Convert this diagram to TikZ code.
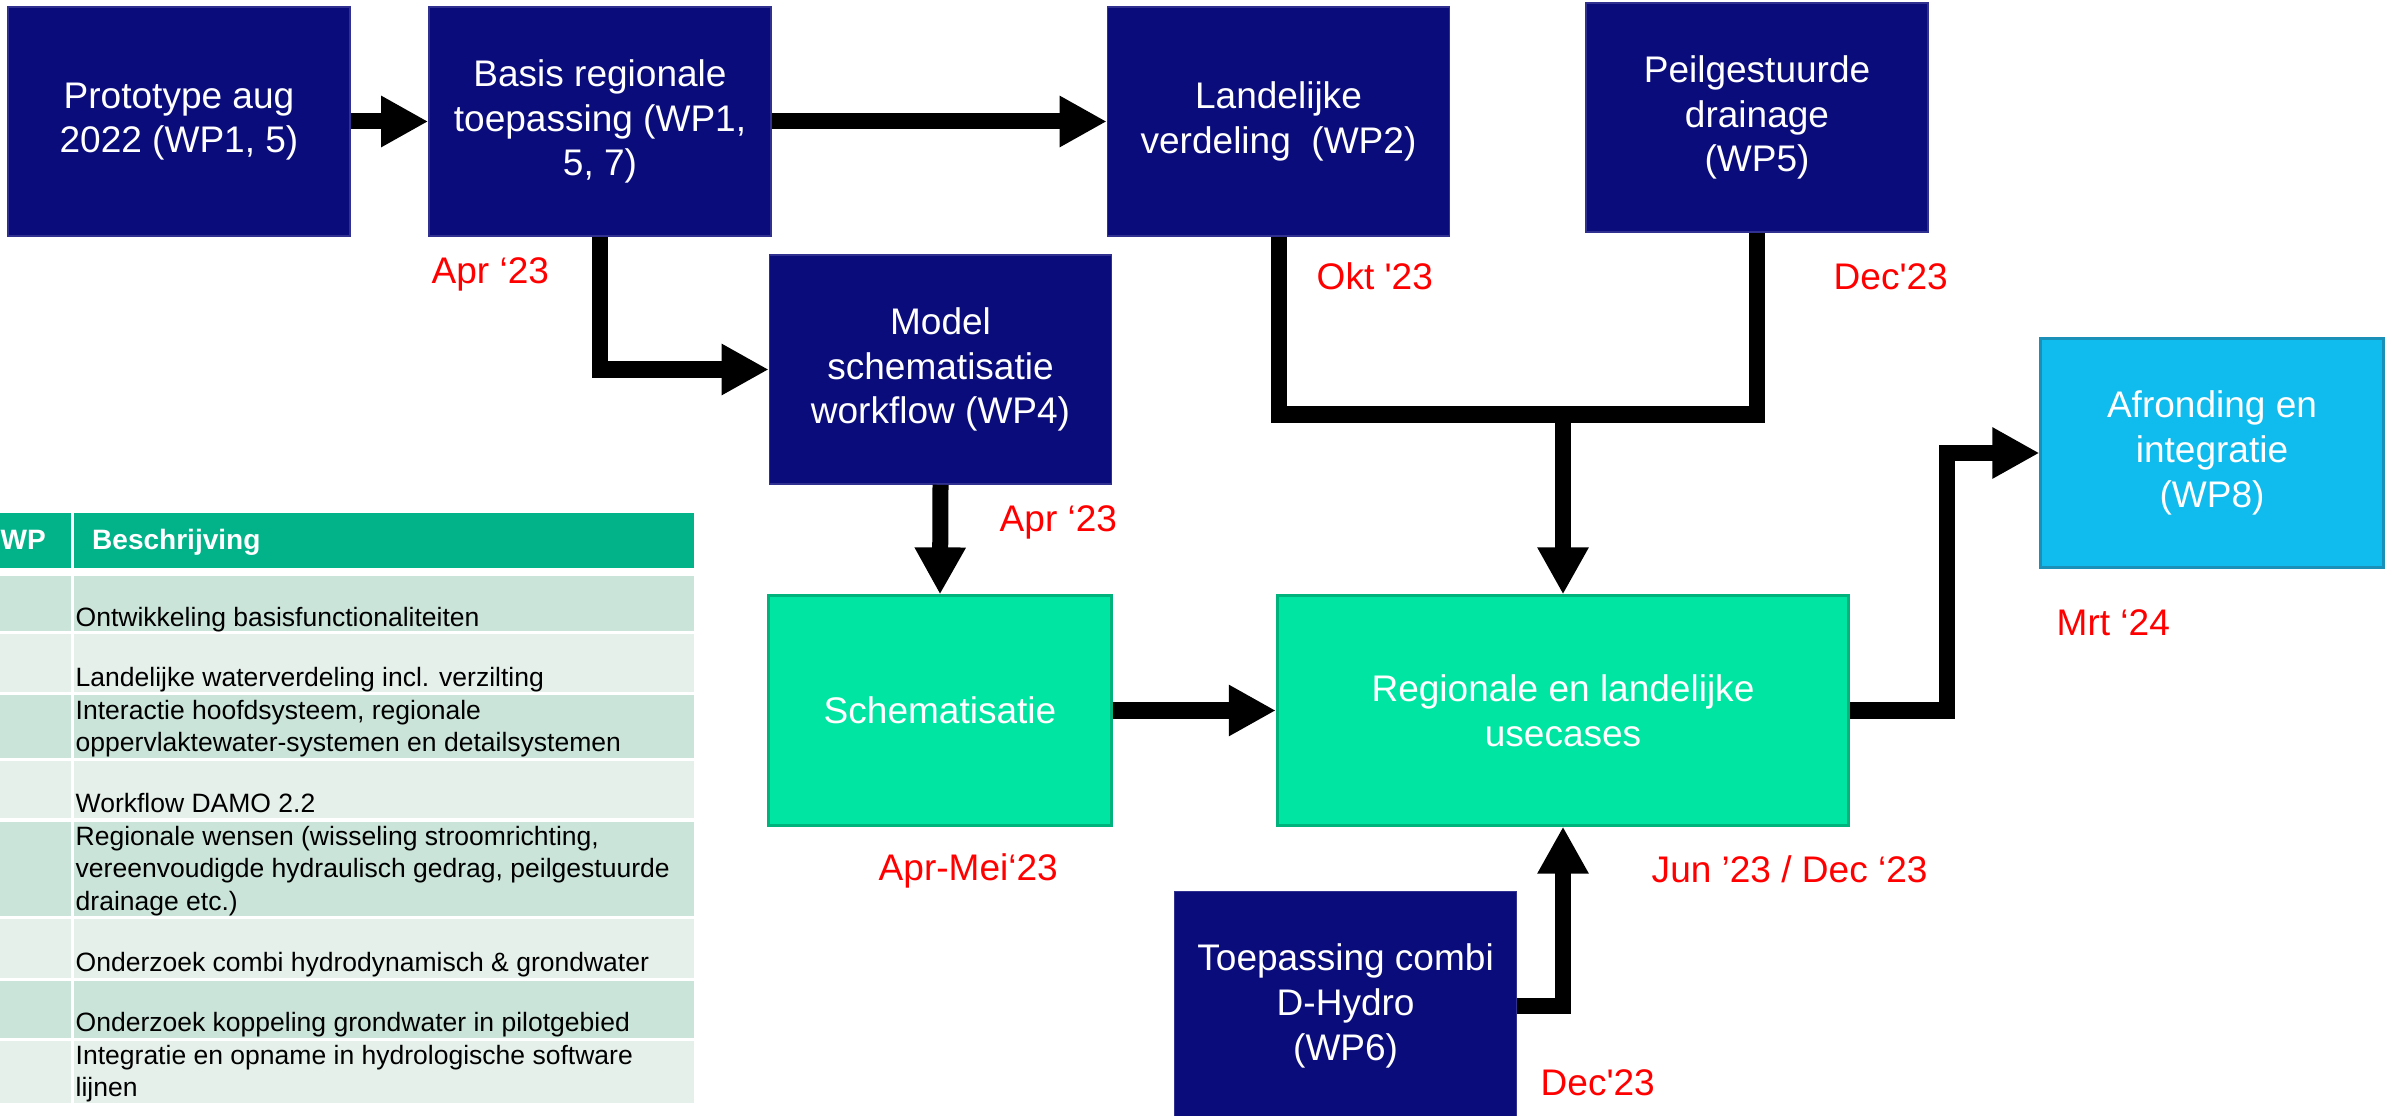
\documentclass[tikz,border=0pt]{standalone}
\usepackage{fontspec}
\setmainfont[Ligatures=TeXOff]{Liberation Sans}
\usepackage{xcolor}
\usetikzlibrary{arrows.meta}
\definecolor{wpnavy}{HTML}{0B0C7C}
\definecolor{wpmint}{HTML}{00E5A2}
\definecolor{wpmintrand}{HTML}{00B27C}
\definecolor{wpcyan}{HTML}{10BBEE}
\definecolor{wpcyanrand}{HTML}{1A8FB8}
\definecolor{kopteal}{HTML}{02B38A}
\definecolor{rijdonker}{HTML}{CBE4DA}
\definecolor{rijlicht}{HTML}{E6F0EB}
\definecolor{datumrood}{HTML}{FF0000}

\begin{document}
\begin{tikzpicture}[x=0.01cm, y=-0.01cm]
                % Stijlen voor blokken, pijlen en teksten
                \tikzset{
                    blok/.style={
                        rectangle,
                        inner sep=0pt,
                        align=center,
                        text=white,
                        minimum width=3.42cm,
                        minimum height=2.29cm,
                        font=\fontsize{10.53pt}{12.7pt}\selectfont
                    },
                    wp blok/.style={blok, fill=wpnavy, draw=wpnavy!85!white, line width=0.4pt},
                    usecase blok/.style={blok, fill=wpmint, draw=wpmintrand, line width=0.03cm},
                    eind blok/.style={blok, fill=wpcyan, draw=wpcyanrand, line width=0.03cm},
                    datum/.style={
                        anchor=base west,
                        inner sep=0pt,
                        text=datumrood,
                        font=\fontsize{10.53pt}{12.7pt}\selectfont
                    },
                    lijn/.style={draw=black, line width=0.16cm, line join=miter},
                    pijl/.style={lijn, -{Triangle[length=0.47cm, width=0.48cm]}},
                    tabeltekst/.style={
                        anchor=base west,
                        inner sep=0pt,
                        align=left,
                        font=\fontsize{7.54pt}{9.2pt}\selectfont
                    },
                    tabelkop/.style={
                        anchor=base west,
                        inner sep=0pt,
                        text=white,
                        font=\fontsize{7.97pt}{9.6pt}\selectfont\bfseries
                    }
                }
                \useasboundingbox (0,0) rectangle (2392,1116);

                % Tabel werkpakketten
                \fill[kopteal] (-20,512.7) rectangle (70.5,567.7);
                \fill[kopteal] (73.7,512.7) rectangle (694,567.7);
                \foreach \boven/\onder/\kleur in {576/631/rijdonker, 634.3/692.3/rijlicht,
                    695/757.7/rijdonker, 761/818.3/rijlicht, 821.7/916/rijdonker,
                    919.3/978.3/rijlicht, 981/1037.7/rijdonker, 1041/1103.3/rijlicht}{
                    \fill[\kleur] (-20,\boven) rectangle (70.5,\onder);
                    \fill[\kleur] (73.7,\boven) rectangle (694,\onder);
                }
                % meerregelige cellen: basislijn van de laatste regel
                \node[tabelkop] (kopwp) at (0,550) {WP};
                \node[tabelkop] (kopbeschr) at (91.5,550) {Beschrijving};
                \node[tabeltekst] (wp1) at (75,626) {Ontwikkeling basisfunctionaliteiten};
                \node[tabeltekst] (wp2) at (75,686) {Landelijke waterverdeling incl. verzilting};
                \node[tabeltekst] (wp3) at (75,751.7) {Interactie hoofdsysteem, regionale\\oppervlaktewater-systemen en detailsystemen};
                \node[tabeltekst] (wp4) at (75,812.3) {Workflow DAMO 2.2};
                \node[tabeltekst] (wp5) at (75,910) {Regionale wensen (wisseling stroomrichting,\\vereenvoudigde hydraulisch gedrag, peilgestuurde\\drainage etc.)};
                \node[tabeltekst] (wp6) at (75,971.7) {Onderzoek combi hydrodynamisch \& grondwater};
                \node[tabeltekst] (wp7) at (75,1031.7) {Onderzoek koppeling grondwater in pilotgebied};
                \node[tabeltekst] (wp8) at (75,1096.7) {Integratie en opname in hydrologische software\\lijnen};

                % Blokken
                \node[wp blok] (proto) at (179,121.5) {Prototype aug\\2022 (WP1, 5)};
                \node[wp blok] (basis) at (600,121.5) {Basis regionale\\toepassing (WP1,\\5, 7)};
                \node[wp blok] (landelijk) at (1278.5,121.5) {Landelijke\\verdeling\ \ (WP2)};
                \node[wp blok] (peil) at (1757,117.5) {Peilgestuurde\\drainage\\(WP5)};
                \node[wp blok] (model) at (940.5,369.5) {Model\\schematisatie\\workflow (WP4)};
                \node[usecase blok] (schem) at (940,710.5) {Schematisatie};
                \node[usecase blok, minimum width=5.71cm] (regio) at (1563,710.5) {Regionale en landelijke\\usecases};
                \node[eind blok] (afrond) at (2212,453) {Afronding en\\integratie\\(WP8)};
                \node[wp blok] (dhydro) at (1345.6,1006) {Toepassing combi\\D-Hydro\\(WP6)};

                % Pijlen
                \draw[pijl] (proto.east) -- (basis.west);
                \draw[pijl] (basis.east) -- (landelijk.west);
                \draw[pijl] (basis.south) |- (model.west);
                \coordinate (samen) at (1563,414.5);
                \draw[lijn] (landelijk.south) |- (samen) -| (peil.south);
                \draw[pijl] (samen) -- (regio.north);
                \draw[pijl] (model.south) -- (schem.north);
                \draw[pijl] (schem.east) -- (regio.west);
                \draw[pijl] (regio.east) -- ++(96.5,0) |- (afrond.west);
                \draw[pijl] (dhydro.east) -| (regio.south);

                % Datums
                \node[datum] (apr1) at (431,283.3) {Apr ‘23};
                \node[datum] (okt) at (1316,290) {Okt '23};
                \node[datum] (dec1) at (1833,290) {Dec'23};
                \node[datum] (apr2) at (999,531.7) {Apr ‘23};
                \node[datum] (mrt) at (2056,635) {Mrt ‘24};
                \node[datum] (aprmei) at (878,880) {Apr-Mei‘23};
                \node[datum] (jundec) at (1651,882) {Jun ’23 / Dec ‘23};
                \node[datum] (dec2) at (1540,1095) {Dec'23};
            \end{tikzpicture}
\end{document}
